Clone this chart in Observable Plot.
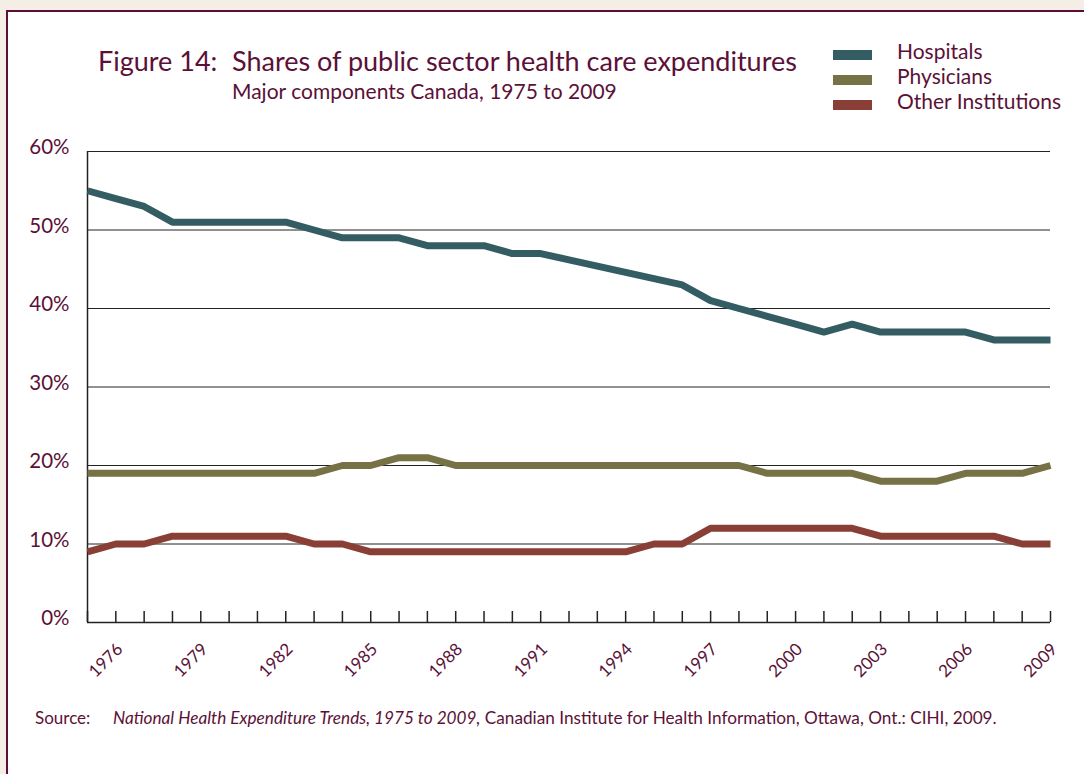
<!DOCTYPE html>
<html><head><meta charset="utf-8">
<script src="https://cdn.jsdelivr.net/npm/d3@7"></script>
<script src="https://cdn.jsdelivr.net/npm/@observablehq/plot@0.6"></script>
<style>
html,body{margin:0;padding:0;background:#f4eee6;width:1084px;height:774px;overflow:hidden;font-family:Lato,"Open Sans",sans-serif;color:#5b1137}
#panel{position:absolute;left:6px;top:10px;width:1100px;height:800px;border:2px solid #5e0d36;background:#fff}
.t{position:absolute;white-space:nowrap;line-height:1}
.sw{position:absolute;left:833px;width:39px;height:10px}
#chart{position:absolute;left:0;top:120px}
</style></head><body>
<div id="panel"></div>
<div class="t" style="left:98px;top:47px;font-size:27px">Figure 14:</div>
<div class="t" style="left:232px;top:47px;font-size:27px">Shares of public sector health care expenditures</div>
<div class="t" style="left:232px;top:80px;font-size:21px">Major components Canada, 1975 to 2009</div>
<div id="legend"></div>
<div id="chart"></div>
<div class="t" style="left:35px;top:709px;font-size:17px">Source:</div>
<div class="t" style="left:113px;top:709px;font-size:17.2px"><i>National Health Expenditure Trends, 1975 to 2009,</i> Canadian Institute for Health Information, Ottawa, Ont.: CIHI, 2009.</div>
<script>
const years = [1975,1976,1977,1978,1979,1980,1981,1982,1983,1984,1985,1986,1987,1988,1989,1990,1991,1992,1993,1994,1995,1996,1997,1998,1999,2000,2001,2002,2003,2004,2005,2006,2007,2008,2009];
const hospitals = [55,54,53,51,51,51,51,51,50,49,49,49,48,48,48,47,47,46.2,45.4,44.6,43.8,43,41,40,39,38,37,38,37,37,37,37,36,36,36];
const physicians = [19,19,19,19,19,19,19,19,19,20,20,21,21,20,20,20,20,20,20,20,20,20,20,20,19,19,19,19,18,18,18,19,19,19,20];
const otherInst = [9,10,10,11,11,11,11,11,10,10,9,9,9,9,9,9,9,9,9,9,10,10,12,12,12,12,12,12,11,11,11,11,11,10,10];
const seriesNames = ["Hospitals","Physicians","Other Institutions"];
const seriesColors = ["#345d63","#777246","#8a3f36"];
const yTicks = [0,10,20,30,40,50,60];
const labelYears = [1976,1979,1982,1985,1988,1991,1994,1997,2000,2003,2006,2009];
const textColor = "#5b1137";

const values = [hospitals, physicians, otherInst];
const data = [];
seriesNames.forEach((s, k) => years.forEach((yr, i) => data.push({year: yr, value: values[k][i], series: s})));

// legend
const leg = document.getElementById("legend");
seriesNames.forEach((s, k) => {
  const sw = document.createElement("div");
  sw.className = "sw"; sw.style.top = (50 + 25*k) + "px"; sw.style.background = seriesColors[k];
  leg.appendChild(sw);
  const lb = document.createElement("div");
  lb.className = "t"; lb.style.left = "897px"; lb.style.top = (40 + 25*k) + "px"; lb.style.fontSize = "21px";
  lb.textContent = s;
  leg.appendChild(lb);
});

const chart = Plot.plot({
  width: 1084, height: 572,
  marginLeft: 87, marginRight: 34, marginTop: 31, marginBottom: 70,
  x: {domain: [1975, 2009], axis: null},
  y: {domain: [0, 60], axis: null},
  color: {domain: seriesNames, range: seriesColors},
  style: {fontFamily: "Lato, 'Open Sans', sans-serif", background: "transparent", overflow: "visible"},
  marks: [
    Plot.ruleY(yTicks.filter(d => d > 0), {y: d => d, stroke: "#222", strokeWidth: 1}),
    Plot.ruleX(years, {x: d => d, y1: 0, y2: 1.4, stroke: "#222", strokeWidth: 1.5}),
    Plot.ruleX([1975], {x: d => d, y1: 0, y2: 60, stroke: "#222", strokeWidth: 1.5}),
    Plot.ruleY([0], {y: d => d, stroke: "#222", strokeWidth: 1.5}),
    Plot.line(data, {x: "year", y: "value", z: "series", stroke: "series", strokeWidth: 7, strokeLinejoin: "miter", strokeLinecap: "butt"}),
    Plot.text(yTicks, {frameAnchor: "left", y: d => d, text: d => d + "%", textAnchor: "end", dx: -18, dy: -4, fontSize: 20.5, fill: textColor}),
    Plot.text(labelYears, {x: d => d, y: 0, text: d => String(d), rotate: -45, textAnchor: "end", dx: 4, dy: 24, fontSize: 17, fill: textColor})
  ]
});
document.getElementById("chart").appendChild(chart);
</script>
</body></html>
